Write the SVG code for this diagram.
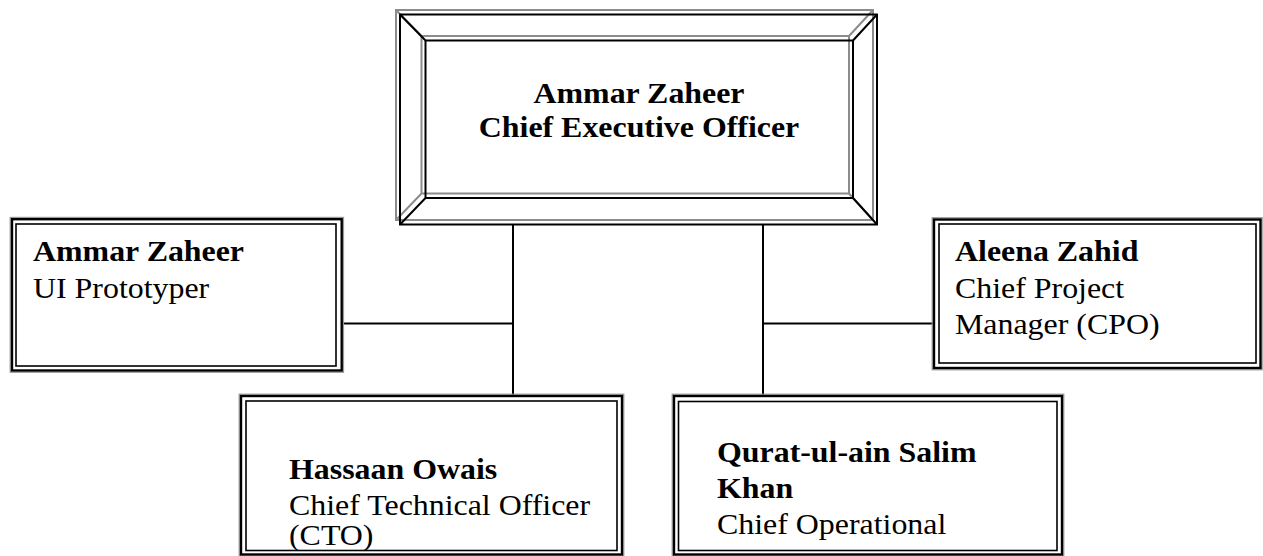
<svg xmlns="http://www.w3.org/2000/svg" width="1263" height="556" viewBox="0 0 1263 556">
  <style>
    .bg { fill: #ffffff; }
    .bevel { fill: none; stroke-width: 2; stroke-linejoin: miter; }
    .outer { fill: none; stroke: #000000; stroke-width: 2.4; }
    .halo { fill: none; stroke: #9a9a9a; stroke-width: 1.2; }
    .inner { fill: none; stroke: #000000; stroke-width: 1.6; }
    .link { fill: none; stroke: #000000; stroke-width: 2; }
    text { font-family: "Liberation Serif", "Times New Roman", serif; font-size: 29px; fill: #000000; }
    .b { font-weight: bold; }
    .mid { text-anchor: middle; }
  </style>
  <defs>
    <!-- bevelled picture-frame outline: outer rim, inner rim and corner mitres -->
    <path id="frameShape" d="M400,14.5 H877 V224.5 H400 Z M425.5,40.5 H853 V198 H425.5 Z M400,14.5 L425.5,40.5 M877,14.5 L853,40.5 M400,224.5 L425.5,198 M877,224.5 L853,198"/>
  </defs>

  <rect class="bg" x="0" y="0" width="1263" height="556"/>

  <!-- connectors -->
  <g id="connectors">
    <path class="link" d="M513,225 V396"/>
    <path class="link" d="M342,323.5 H513"/>
    <path class="link" d="M763,225 V396"/>
    <path class="link" d="M763,323.5 H934"/>
  </g>

  <!-- CEO -->
  <g id="ceo">
    <use href="#frameShape" class="bevel" stroke="#8c8c8c" transform="translate(-4,-4.5)"/>
    <use href="#frameShape" class="bevel" stroke="#000000"/>
    <text class="b mid" transform="translate(639,103) scale(1.1,1)">Ammar Zaheer</text>
    <text class="b mid" transform="translate(639,137) scale(1.1,1)">Chief Executive Officer</text>
  </g>

  <!-- UI prototyper -->
  <g id="ui-prototyper">
    <rect class="halo" x="10.2" y="217.4" width="333.3" height="154.9"/>
    <rect class="outer" x="12" y="219.2" width="329.7" height="151.3"/>
    <rect class="inner" x="16" y="224" width="320" height="142"/>
    <text class="b" transform="translate(33,261) scale(1.1,1)">Ammar Zaheer</text>
    <text transform="translate(33,297.5) scale(1.1,1)">UI Prototyper</text>
  </g>

  <!-- Chief project manager -->
  <g id="cpo">
    <rect class="halo" x="932.2" y="217.7" width="330" height="152.1"/>
    <rect class="outer" x="934" y="219.5" width="326.5" height="148.5"/>
    <rect class="inner" x="939" y="224" width="317" height="139"/>
    <text class="b" transform="translate(955,261) scale(1.1,1)">Aleena Zahid</text>
    <text transform="translate(955,297.5) scale(1.1,1)">Chief Project</text>
    <text transform="translate(955,334) scale(1.1,1)">Manager (CPO)</text>
  </g>

  <!-- Chief technical officer -->
  <g id="cto">
    <rect class="halo" x="239.2" y="394.2" width="384.6" height="162"/>
    <rect class="outer" x="241" y="396" width="381" height="158.5"/>
    <rect class="inner" x="246" y="401" width="371" height="149.5"/>
    <text class="b" transform="translate(289,479) scale(1.1,1)">Hassaan Owais</text>
    <text transform="translate(289,515) scale(1.1,1)">Chief Technical Officer</text>
    <text transform="translate(289,545) scale(1.1,1)">(CTO)</text>
  </g>

  <!-- Chief operational officer -->
  <g id="coo">
    <rect class="halo" x="672.2" y="394.2" width="391.6" height="162"/>
    <rect class="outer" x="674" y="396" width="388" height="158.5"/>
    <rect class="inner" x="678.5" y="401.5" width="378.5" height="149"/>
    <text class="b" transform="translate(717,462) scale(1.1,1)">Qurat-ul-ain Salim</text>
    <text class="b" transform="translate(717,498) scale(1.1,1)">Khan</text>
    <text transform="translate(717,534) scale(1.1,1)">Chief Operational</text>
  </g>
</svg>
